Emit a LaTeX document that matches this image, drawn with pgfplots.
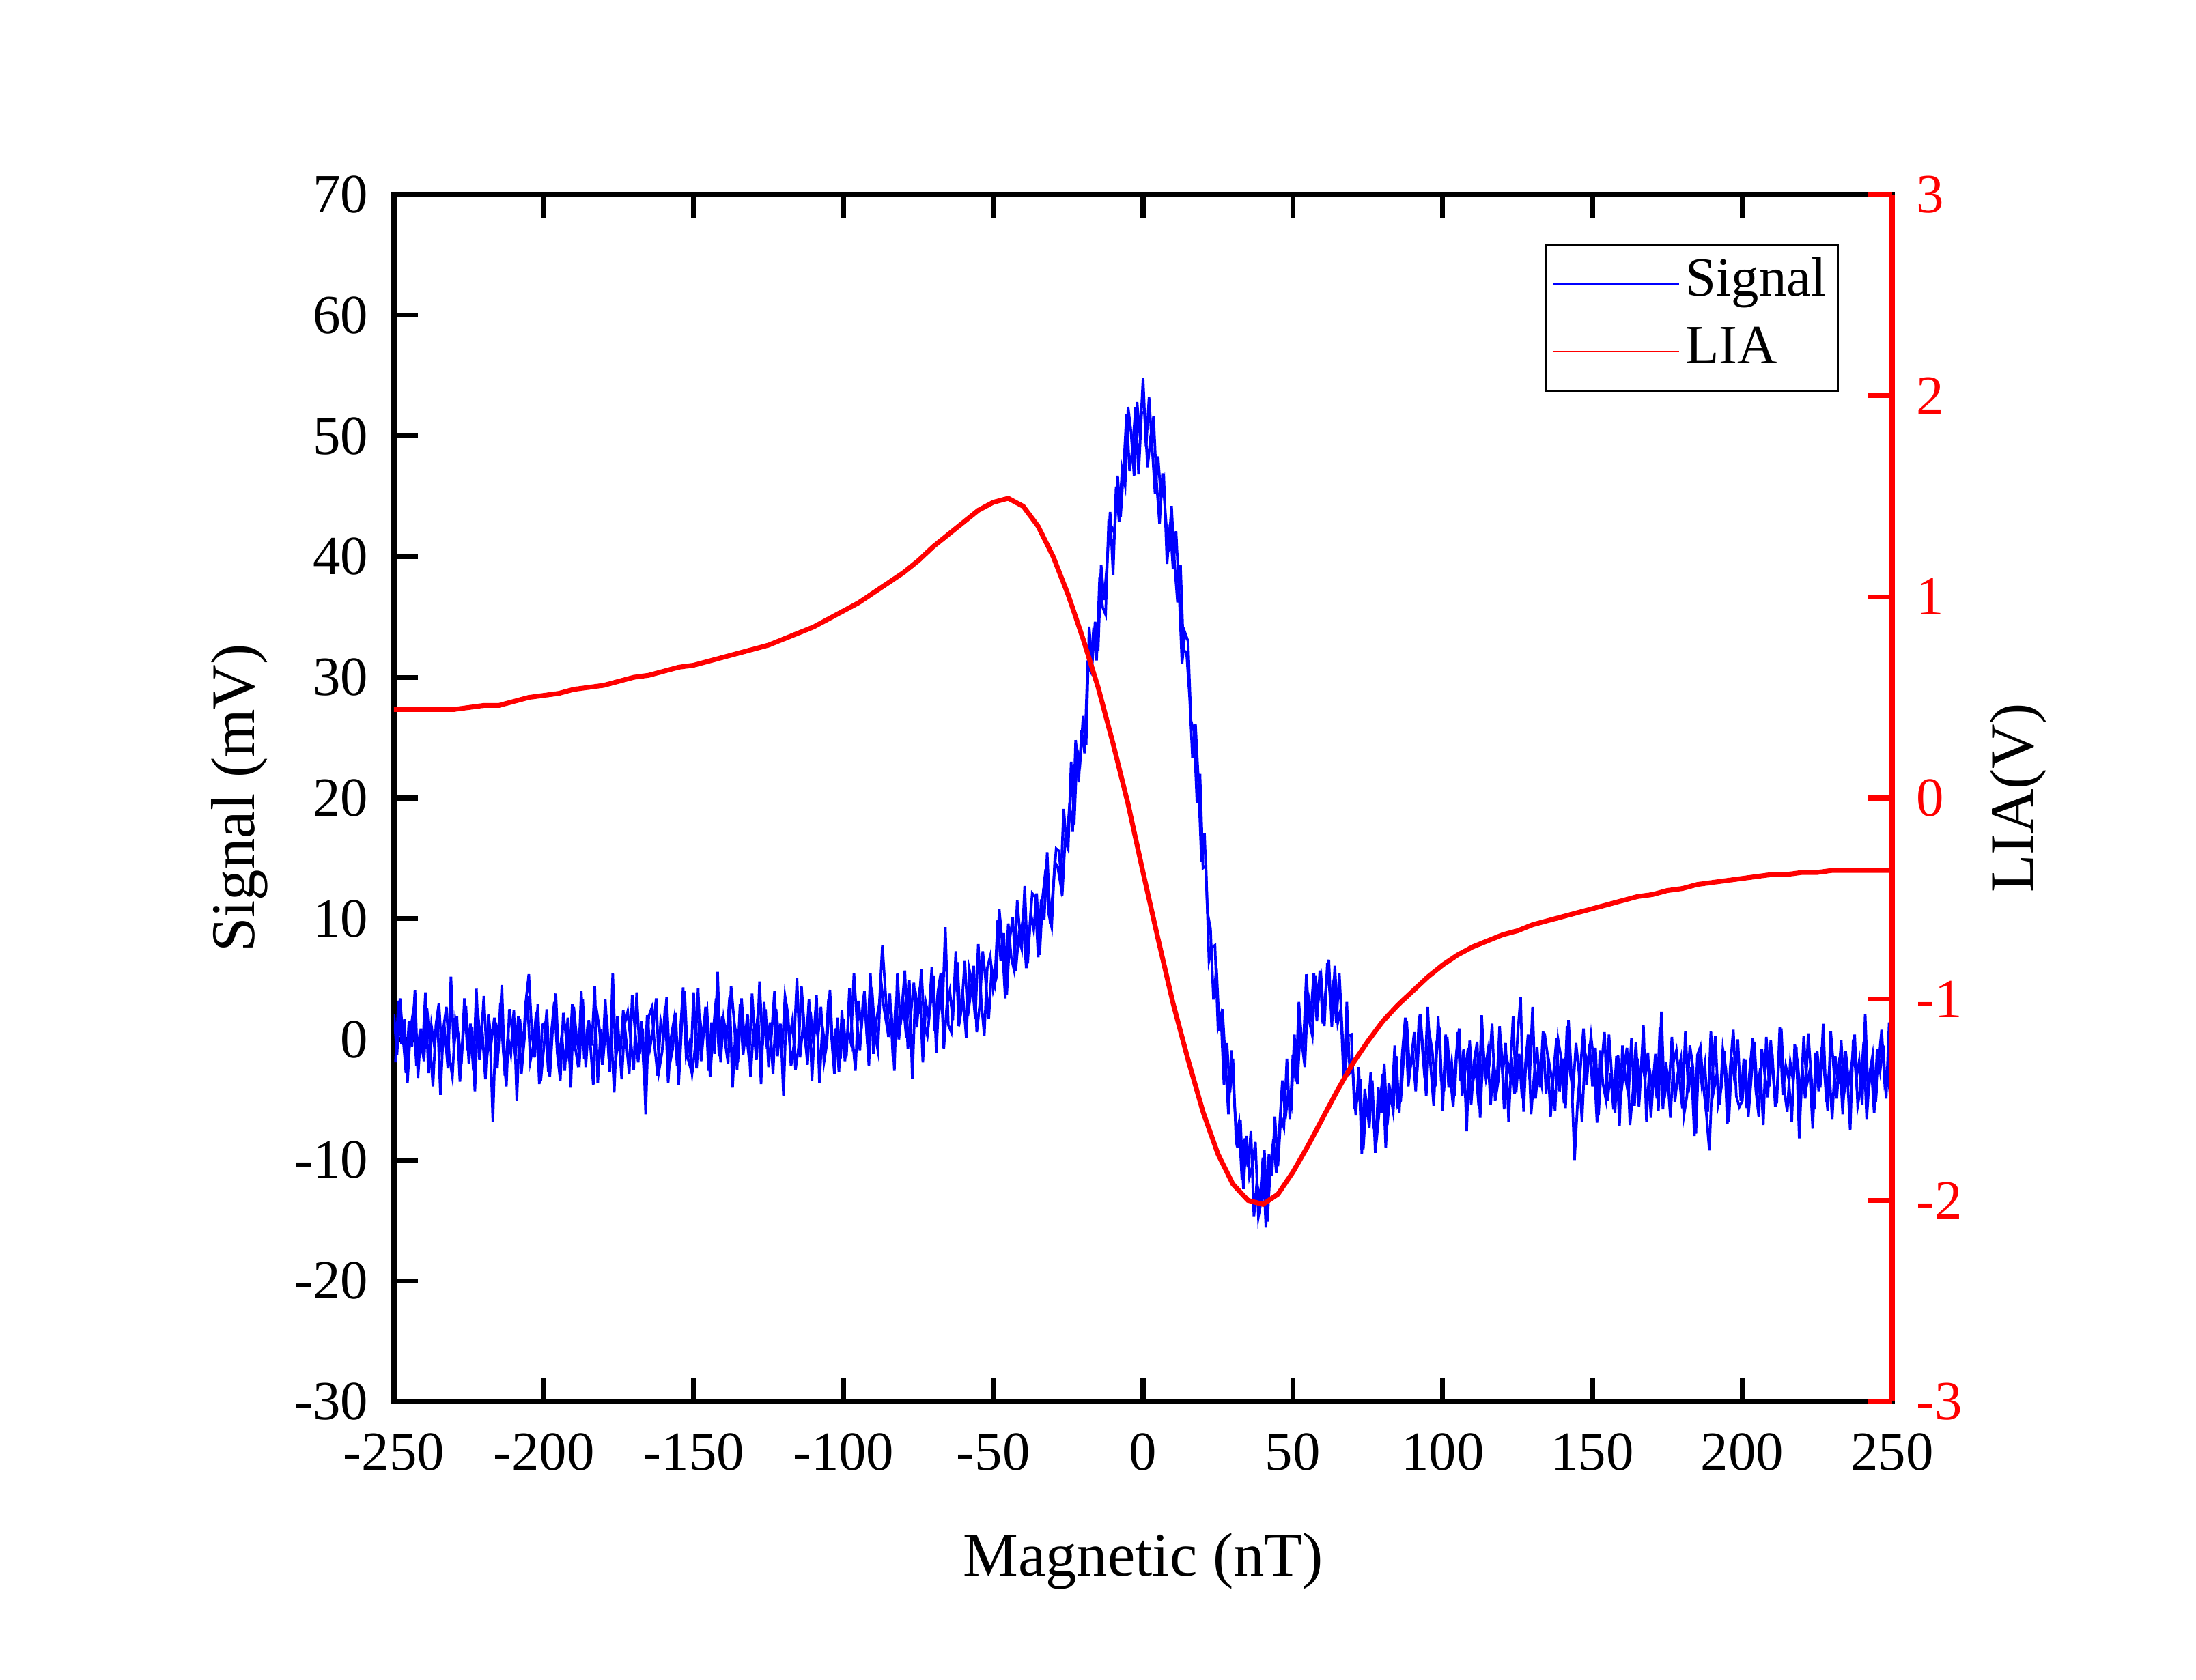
\documentclass[border=0pt]{standalone}
\usepackage{fontspec}
\setmainfont{Liberation Serif}
\usepackage{pgfplots}
\pgfplotsset{compat=1.18}
\usepackage{pgfplotstable}

\pgfplotstableread{
x y
-250 2.1
-249 -1.3
-248 3.4
-247 0.2
-246 -2.8
-245 1.5
-244 -0.6
-243 4.1
-242 -3.2
-241 0.9
-240 -1.8
-239 2.6
-238 -0.3
-237 -3.9
-236 1.2
-235 3.0
-234 -1.1
-233 0.5
-232 -2.4
-231 5.2
-230 -0.8
-229 1.9
-228 -3.5
-227 0.1
-226 2.8
-225 -2.0
-224 1.0
-223 -4.3
-222 2.2
-221 -0.4
-220 3.6
-219 -1.6
-218 0.7
-217 -6.8
-216 1.4
-215 -0.2
-214 4.5
-213 -3.0
-212 0.3
-211 -1.2
-210 2.4
-209 -5.1
-208 1.7
-207 -0.9
-206 3.1
-205 5.4
-204 0.6
-203 -1.5
-202 2.9
-201 -3.4
-200 -0.7
-199 2.5
-198 -3.1
-197 1.1
-196 3.8
-195 -1.9
-194 0.4
-193 -2.6
-192 1.8
-191 -4.0
-190 2.7
-189 0.0
-188 -1.4
-187 3.3
-186 -2.3
-185 1.6
-184 -0.5
-183 4.4
-182 -3.6
-181 0.8
-180 -1.0
-179 2.0
-178 -2.7
-177 5.5
-176 -1.7
-175 0.3
-174 -3.3
-173 1.3
-172 2.3
-171 -0.1
-170 -2.5
-169 3.9
-168 -1.2
-167 0.9
-166 -6.2
-165 1.9
-164 2.6
-163 -0.6
-162 -3.0
-161 1.5
-160 0.2
-159 3.5
-158 -2.1
-157 -0.8
-156 2.2
-155 -3.8
-154 1.0
-153 4.0
-152 -1.5
-151 -2.4
-150 3.9
-149 -2.4
-148 2.0
-147 -0.1
-146 2.7
-145 -2.6
-144 1.4
-143 -1.2
-142 5.6
-141 -1.9
-140 1.7
-139 0.2
-138 3.5
-137 -4.0
-136 0.7
-135 -0.9
-134 3.4
-133 -0.2
-132 2.1
-131 -3.1
-130 0.9
-129 -1.7
-128 4.8
-127 -0.5
-126 2.5
-125 -2.3
-124 0.4
-123 4.0
-122 -1.4
-121 1.3
-120 -4.7
-119 2.9
-118 0.0
-117 1.6
-116 -2.5
-115 -0.7
-114 4.4
-113 0.8
-112 -2.1
-111 2.3
-110 -0.4
-109 3.7
-108 -3.6
-107 1.1
-106 -1.0
-105 3.3
-104 0.3
-103 -2.9
-102 1.8
-101 -1.6
-100 1.7
-99 -1.4
-98 4.2
-97 0.1
-96 -2.6
-95 3.2
-94 0.9
-93 4.0
-92 -0.4
-91 5.5
-90 -1.2
-89 1.6
-88 3.0
-87 7.8
-86 4.0
-85 0.2
-84 2.3
-83 -2.6
-82 5.5
-81 1.2
-80 3.0
-79 0.1
-78 4.9
-77 -3.3
-76 4.0
-75 2.1
-74 5.8
-73 1.2
-72 0.3
-71 2.8
-70 5.3
-69 -1.1
-68 4.1
-67 2.1
-66 9.3
-65 1.2
-64 0.6
-63 3.9
-62 6.4
-61 1.9
-60 3.3
-59 0.1
-58 5.8
-57 4.6
-56 1.7
-55 7.9
-54 3.2
-53 0.3
-52 5.9
-51 6.9
-50 4.1
-49 5.1
-48 10.8
-47 8.0
-46 3.4
-45 9.6
-44 6.8
-43 5.7
-42 11.5
-41 8.5
-40 10.1
-39 5.9
-38 8.6
-37 12.1
-36 11.8
-35 6.8
-34 11.6
-33 9.9
-32 15.5
-31 9.6
-30 12.6
-29 15.8
-28 15.6
-27 11.9
-26 16.5
-25 15.8
-24 23.0
-23 17.8
-22 24.0
-21 23.0
-20 26.8
-19 24.4
-18 34.2
-17 31.0
-16 34.6
-15 32.2
-14 39.3
-13 36.4
-12 39.5
-11 43.7
-10 38.5
-9 45.8
-8 42.9
-7 47.2
-6 45.9
-5 52.4
-4 50.3
-3 46.7
-2 52.8
-1 49.9
0 54.8
1 49.1
2 53.2
3 49.2
4 45.2
5 48.3
6 44.8
7 46.1
8 39.4
9 42.7
10 39.0
11 42.1
12 37.2
13 31.1
14 33.7
15 33.0
16 26.4
17 25.5
18 19.6
19 22.0
20 14.2
21 14.4
22 6.5
23 7.6
24 7.8
25 1.0
26 2.0
27 -3.8
28 -0.3
29 -4.4
30 -1.6
31 -8.1
32 -6.9
33 -11.6
34 -8.2
35 -10.6
36 -7.6
37 -14.7
38 -11.8
39 -13.5
40 -9.8
41 -15.6
42 -9.5
43 -11.3
44 -6.4
45 -10.5
46 -6.4
47 -7.3
48 -1.6
49 -6.6
50 -1.3
51 -3.5
52 3.1
53 -0.3
54 -2.3
55 3.9
56 2.1
57 5.5
58 1.5
59 5.7
60 1.3
61 4.2
62 6.6
63 1.0
64 6.1
65 1.4
66 2.5
67 -3.6
68 3.1
69 -2.8
70 -2.5
71 -6.3
72 -2.3
73 -9.5
74 -4.1
75 -6.3
76 -2.7
77 -7.3
78 -8.1
79 -5.5
80 -2.9
81 -9.0
82 -3.6
83 -5.3
84 -0.5
85 -5.5
86 -5.1
87 -1.4
88 1.5
89 -2.7
90 -1.0
91 -4.3
92 1.3
93 -0.1
94 -3.2
95 2.7
96 -2.3
97 -5.5
98 -0.2
99 0.5
100 -5.9
101 0.4
102 -4.0
103 -1.9
104 -4.7
105 0.6
106 -3.4
107 -0.8
108 -7.6
109 -0.1
110 -3.7
111 -2.2
112 -5.5
113 2.0
114 -2.7
115 -1.1
116 -5.4
117 -1.8
118 -4.1
119 1.1
120 -2.9
121 -0.3
122 -6.8
123 -1.5
124 -4.5
125 0.3
126 3.5
127 -6.0
128 -0.6
129 -3.3
130 2.7
131 -4.9
132 -2.0
133 -3.6
134 0.5
135 -1.3
136 -6.4
137 -2.8
138 0.1
139 -4.3
140 -1.6
141 -5.7
142 1.6
143 -3.1
144 -10.0
145 -5.3
146 -2.3
147 0.9
148 -3.8
149 -0.4
150 -3.9
151 -0.7
152 -6.3
153 -2.1
154 0.6
155 -5.1
156 -2.8
157 -5.8
158 -1.4
159 -7.2
160 -0.5
161 -3.2
162 -4.6
163 0.1
164 -5.5
165 -1.6
166 -3.7
167 1.2
168 -6.8
169 -2.4
170 -4.2
171 -1.2
172 -5.9
173 2.3
174 -4.9
175 -2.9
176 -6.5
177 -1.9
178 -0.9
179 -3.3
180 -5.7
181 0.7
182 -4.4
183 -2.3
184 -8.0
185 -1.3
186 -0.6
187 -3.8
188 -6.2
189 -9.2
190 -3.0
191 0.3
192 -5.3
193 -4.0
194 -1.0
195 -7.0
196 -2.2
197 0.8
198 -4.7
199 -5.6
200 -5.1
201 -1.7
202 -6.4
203 -3.2
204 -0.2
205 -4.5
206 -2.4
207 -7.1
208 0.2
209 -3.9
210 -1.2
211 -5.6
212 -2.7
213 0.9
214 -4.2
215 -6.0
216 -1.9
217 -3.5
218 -0.6
219 -8.2
220 -2.2
221 -4.9
222 0.5
223 -3.1
224 -5.8
225 -1.0
226 -4.0
227 1.3
228 -5.2
229 -2.6
230 -6.6
231 -1.4
232 -3.7
233 -0.1
234 -4.4
235 -2.8
236 -7.5
237 0.0
238 -3.3
239 -1.8
240 -5.4
241 2.1
242 -4.7
243 -2.1
244 -6.1
245 -0.8
246 -2.6
247 -0.5
248 -4.9
249 1.4
250 -1.0
}\signaldata

\pgfplotstableread{
x y
-249.5 -1.9
-248.5 3.2
-247.5 -0.4
-246.5 1.7
-245.5 -3.6
-244.5 0.8
-243.5 2.4
-242.5 -2.2
-241.5 0.3
-240.5 -1.0
-239.5 3.9
-238.5 -2.8
-237.5 1.1
-236.5 -0.6
-235.5 2.0
-234.5 -4.6
-233.5 0.9
-232.5 2.7
-231.5 -1.5
-230.5 -3.1
-229.5 1.6
-228.5 0.4
-227.5 -2.0
-226.5 3.4
-225.5 -0.9
-224.5 1.3
-223.5 -2.6
-222.5 4.2
-221.5 -1.7
-220.5 0.6
-219.5 -3.3
-218.5 2.1
-217.5 -0.2
-216.5 1.8
-215.5 -2.4
-214.5 3.0
-213.5 -1.1
-212.5 -3.9
-211.5 2.5
-210.5 0.7
-209.5 -1.4
-208.5 1.9
-207.5 -2.9
-206.5 0.0
-205.5 3.6
-204.5 -1.8
-203.5 -0.5
-202.5 2.3
-201.5 -3.7
-200.5 1.2
-199.5 1.4
-198.5 -2.7
-197.5 0.5
-196.5 3.1
-195.5 -1.2
-194.5 -3.4
-193.5 2.2
-192.5 0.1
-191.5 -1.8
-190.5 2.9
-189.5 -0.7
-188.5 -2.3
-187.5 4.0
-186.5 -1.6
-185.5 0.8
-184.5 -0.3
-183.5 -3.8
-182.5 2.6
-181.5 1.0
-180.5 -2.1
-179.5 3.3
-178.5 -0.8
-177.5 0.4
-176.5 -4.4
-175.5 1.9
-174.5 -1.3
-173.5 2.4
-172.5 -0.1
-171.5 -2.9
-170.5 3.7
-169.5 0.6
-168.5 -1.9
-167.5 1.5
-166.5 -3.2
-165.5 2.0
-164.5 -0.6
-163.5 0.9
-162.5 3.4
-161.5 -2.5
-160.5 -1.0
-159.5 2.8
-158.5 -3.6
-157.5 0.2
-156.5 1.7
-155.5 -2.2
-154.5 0.3
-153.5 4.3
-152.5 -1.4
-151.5 -0.4
-150.5 -2.8
-149.5 -0.7
-148.5 4.2
-147.5 -1.8
-146.5 1.0
-145.5 2.3
-144.5 -3.1
-143.5 0.5
-142.5 3.4
-141.5 -1.4
-140.5 1.9
-139.5 -0.2
-138.5 -2.0
-137.5 4.4
-136.5 1.6
-135.5 -2.5
-134.5 2.9
-133.5 -1.3
-132.5 0.7
-131.5 -1.6
-130.5 3.8
-129.5 -0.1
-128.5 2.2
-127.5 -3.7
-126.5 3.1
-125.5 -0.8
-124.5 1.4
-123.5 -2.9
-122.5 2.5
-121.5 0.1
-120.5 -1.1
-119.5 3.6
-118.5 2.0
-117.5 -2.2
-116.5 -0.4
-115.5 5.1
-114.5 -1.5
-113.5 1.1
-112.5 -0.6
-111.5 3.3
-110.5 -3.4
-109.5 1.5
-108.5 0.2
-107.5 2.7
-106.5 -1.9
-105.5 -0.3
-104.5 4.1
-103.5 -1.2
-102.5 0.9
-101.5 -2.7
-100.5 2.4
-99.5 -1.8
-98.5 0.7
-97.5 -0.3
-96.5 5.5
-95.5 1.5
-94.5 -0.9
-93.5 3.0
-92.5 1.6
-91.5 -2.2
-90.5 4.3
-89.5 0.5
-88.5 -0.9
-87.5 5.0
-86.5 2.6
-85.5 1.1
-84.5 3.8
-83.5 -1.4
-82.5 3.4
-81.5 0.0
-80.5 2.6
-79.5 5.7
-78.5 -0.8
-77.5 2.1
-76.5 4.7
-75.5 1.0
-74.5 4.3
-73.5 -1.9
-72.5 3.0
-71.5 1.8
-70.5 6.0
-69.5 0.7
-68.5 3.9
-67.5 5.5
-66.5 -0.8
-65.5 2.8
-64.5 4.0
-63.5 1.6
-62.5 7.3
-61.5 1.1
-60.5 2.8
-59.5 6.5
-58.5 1.9
-57.5 3.9
-56.5 6.1
-55.5 0.6
-54.5 2.9
-53.5 7.3
-52.5 4.8
-51.5 1.7
-50.5 5.9
-49.5 4.7
-48.5 9.9
-47.5 6.5
-46.5 8.8
-45.5 3.7
-44.5 8.3
-43.5 10.1
-42.5 5.7
-41.5 8.5
-40.5 7.5
-39.5 12.7
-38.5 6.3
-37.5 10.5
-36.5 9.1
-35.5 12.1
-34.5 7.0
-33.5 11.8
-32.5 14.1
-31.5 10.4
-30.5 9.3
-29.5 14.7
-28.5 14.3
-27.5 12.8
-26.5 19.1
-25.5 16.0
-24.5 19.6
-23.5 17.2
-22.5 24.8
-21.5 21.3
-20.5 25.6
-19.5 23.7
-18.5 31.0
-17.5 30.5
-16.5 34.1
-15.5 31.4
-14.5 38.3
-13.5 35.8
-12.5 35.2
-11.5 42.8
-10.5 42.5
-9.5 41.9
-8.5 46.7
-7.5 43.3
-6.5 47.3
-5.5 51.8
-4.5 47.1
-3.5 49.0
-2.5 52.4
-1.5 46.8
-0.5 51.9
0.5 52.0
1.5 47.4
2.5 49.9
3.5 51.6
4.5 46.2
5.5 42.7
6.5 46.9
7.5 43.4
8.5 40.4
9.5 44.2
10.5 39.5
11.5 36.2
12.5 39.3
13.5 32.2
14.5 32.1
15.5 28.5
16.5 23.3
17.5 26.1
18.5 21.3
19.5 14.7
20.5 17.1
21.5 10.5
22.5 9.2
23.5 3.3
24.5 5.9
25.5 0.7
26.5 2.5
27.5 -1.8
28.5 -6.2
29.5 -0.9
30.5 -5.3
31.5 -9.0
32.5 -6.7
33.5 -12.4
34.5 -8.0
35.5 -11.4
36.5 -10.5
37.5 -8.5
38.5 -14.7
39.5 -13.3
40.5 -9.2
41.5 -15.1
42.5 -10.6
43.5 -8.3
44.5 -11.1
45.5 -7.4
46.5 -3.4
47.5 -6.6
48.5 -4.3
49.5 -5.4
50.5 0.4
51.5 -3.7
52.5 0.8
53.5 -0.6
54.5 5.4
55.5 1.5
56.5 0.3
57.5 5.3
58.5 3.2
59.5 4.9
60.5 1.1
61.5 6.3
62.5 3.3
63.5 4.7
64.5 1.4
65.5 5.5
66.5 0.5
67.5 -2.6
68.5 0.3
69.5 0.4
70.5 -5.5
71.5 -5.1
72.5 -3.3
73.5 -9.1
74.5 -5.0
75.5 -7.3
76.5 -3.4
77.5 -9.4
78.5 -4.0
79.5 -6.1
80.5 -2.0
81.5 -7.1
82.5 -4.4
83.5 -6.0
84.5 -1.4
85.5 -6.1
86.5 -1.2
87.5 1.8
88.5 -3.9
89.5 -1.7
90.5 0.6
91.5 -2.7
92.5 2.1
93.5 -1.0
94.5 -4.7
95.5 0.6
96.5 -0.9
97.5 -3.9
98.5 1.9
99.5 -3.4
100.5 -3.9
101.5 0.2
102.5 -3.0
103.5 -5.6
104.5 -1.3
105.5 0.9
106.5 -4.7
107.5 -2.6
108.5 -0.7
109.5 -5.4
110.5 -1.8
111.5 -0.2
112.5 -6.5
113.5 -0.9
114.5 -3.3
115.5 -2.2
116.5 1.3
117.5 -5.1
118.5 -3.5
119.5 -0.4
120.5 -5.8
121.5 -1.7
122.5 -2.9
123.5 1.9
124.5 -4.4
125.5 -1.2
126.5 -4.9
127.5 -2.4
128.5 0.4
129.5 -6.2
130.5 -3.1
131.5 -0.6
132.5 -4.0
133.5 0.7
134.5 -4.5
135.5 -1.9
136.5 -3.4
137.5 -5.9
138.5 0.0
139.5 -1.5
140.5 -5.3
141.5 1.1
142.5 -2.7
143.5 -4.2
144.5 -0.3
145.5 -2.8
146.5 -6.8
147.5 -1.1
148.5 -2.1
149.5 0.3
150.5 -2.0
151.5 -6.9
152.5 -0.9
153.5 -3.7
154.5 -5.0
155.5 0.4
156.5 -3.2
157.5 -6.1
158.5 -1.3
159.5 -4.6
160.5 -2.5
161.5 -0.7
162.5 -7.1
163.5 -4.3
164.5 -0.2
165.5 -5.6
166.5 -1.4
167.5 -3.4
168.5 -1.1
169.5 -6.5
170.5 -2.6
171.5 -4.9
172.5 1.0
173.5 -5.8
174.5 -1.9
175.5 -4.1
176.5 0.2
177.5 -5.2
178.5 -2.8
179.5 -1.6
180.5 -6.3
181.5 -4.7
182.5 -0.5
183.5 -2.3
184.5 -7.8
185.5 -1.2
186.5 -3.8
187.5 -2.1
188.5 -6.0
189.5 0.7
190.5 -4.2
191.5 -2.9
192.5 -5.4
193.5 -0.8
194.5 -2.4
195.5 -6.8
196.5 -1.5
197.5 -3.6
198.5 0.0
199.5 -5.1
200.5 -1.6
201.5 -5.7
202.5 -2.5
203.5 0.1
204.5 -4.2
205.5 -6.4
206.5 -0.8
207.5 -2.9
208.5 -4.8
209.5 -0.1
210.5 -3.7
211.5 -5.3
212.5 1.0
213.5 -4.6
214.5 -2.2
215.5 -3.3
216.5 -6.8
217.5 -0.4
218.5 -2.0
219.5 -5.1
220.5 0.3
221.5 -3.8
222.5 -2.6
223.5 -7.4
224.5 -1.1
225.5 -4.3
226.5 -0.6
227.5 -3.1
228.5 -5.9
229.5 0.7
230.5 -2.4
231.5 -4.9
232.5 -1.5
233.5 -6.2
234.5 -1.0
235.5 -3.6
236.5 -2.1
237.5 0.4
238.5 -5.5
239.5 -4.0
240.5 -0.2
241.5 -6.6
242.5 -2.8
243.5 -1.3
244.5 -5.2
245.5 -1.9
246.5 0.8
247.5 -3.6
248.5 -2.6
249.5 -5.0
}\signalhalf

\pgfplotstableread{
x y
-250 0.44
-245 0.44
-240 0.44
-235 0.44
-230 0.44
-225 0.45
-220 0.46
-215 0.46
-210 0.48
-205 0.50
-200 0.51
-195 0.52
-190 0.54
-185 0.55
-180 0.56
-175 0.58
-170 0.60
-165 0.61
-160 0.63
-155 0.65
-150 0.66
-145 0.68
-140 0.70
-135 0.72
-130 0.74
-125 0.76
-120 0.79
-115 0.82
-110 0.85
-105 0.89
-100 0.93
-95 0.97
-90 1.02
-85 1.07
-80 1.12
-75 1.18
-70 1.25
-65 1.31
-60 1.37
-55 1.43
-50 1.47
-45 1.49
-40 1.45
-35 1.35
-30 1.20
-25 1.01
-20 0.79
-15 0.55
-10 0.27
-5 -0.03
0 -0.37
5 -0.70
10 -1.02
15 -1.30
20 -1.56
25 -1.77
30 -1.92
35 -2.00
40 -2.02
45 -1.97
50 -1.86
55 -1.73
60 -1.59
65 -1.45
70 -1.32
75 -1.21
80 -1.11
85 -1.03
90 -0.96
95 -0.89
100 -0.83
105 -0.78
110 -0.74
115 -0.71
120 -0.68
125 -0.66
130 -0.63
135 -0.61
140 -0.59
145 -0.57
150 -0.55
155 -0.53
160 -0.51
165 -0.49
170 -0.48
175 -0.46
180 -0.45
185 -0.43
190 -0.42
195 -0.41
200 -0.40
205 -0.39
210 -0.38
215 -0.38
220 -0.37
225 -0.37
230 -0.36
235 -0.36
240 -0.36
245 -0.36
250 -0.36
}\liadata

\newcommand{\tickfont}{\fontsize{19.4}{23}\selectfont}
\newcommand{\labfont}{\fontsize{21.8}{26}\selectfont}

\begin{document}
\begin{tikzpicture}
\useasboundingbox (-138.48pt,-97.92pt) rectangle ++(771.84pt,590.64pt);
\begin{axis}[
  at={(0,0)}, anchor=south west,
  scale only axis, width=526.56pt, height=424.32pt,
  xmin=-250, xmax=250, ymin=-30, ymax=70,
  xtick={-250,-200,-150,-100,-50,0,50,100,150,200,250},
  xticklabels={-250,-200,-150,-100,-50,0,50,100,150,200,250},
  ytick={-30,-20,-10,0,10,20,30,40,50,60,70},
  yticklabels={-30,-20,-10,0,10,20,30,40,50,60,70},
  xtick pos=both, ytick pos=left,
  tick align=inside, major tick length=8.5pt,
  axis line style={line width=1.7pt},
  tick style={black, line width=1.7pt},
  ticklabel style={font=\tickfont},
  xticklabel shift=7.6pt, yticklabel shift=5.5pt,
  xlabel={Magnetic (nT)},
  xlabel style={font=\labfont, at={(axis description cs:0.5,-0.1447)}, anchor=base},
  ylabel={Signal (mV)},
  ylabel style={font=\labfont, at={(axis description cs:-0.0930,0.5)}, anchor=base},
]
\addplot[blue, line width=0.9pt] table[x=x, y=y] {\signaldata};
\addplot[blue, line width=0.9pt] table[x=x, y=y] {\signalhalf};
\end{axis}
\begin{axis}[
  at={(0,0)}, anchor=south west,
  scale only axis, width=526.56pt, height=424.32pt,
  xmin=-250, xmax=250, ymin=-3, ymax=3,
  axis x line=none, axis y line*=right,
  ytick={-3,-2,-1,0,1,2,3},
  yticklabels={-3,-2,-1,0,1,2,3},
  tick align=inside, major tick length=8.5pt,
  y axis line style={red, line width=1.7pt},
  ytick style={red, line width=1.7pt},
  yticklabel style={font=\tickfont, text=red},
  yticklabel shift=5.1pt,
  ylabel={LIA(V)},
  ylabel style={font=\labfont, at={(axis description cs:1.0943,0.5)}, anchor=base},
  legend cell align=left,
  legend image code/.code={\draw[#1] (0pt,0pt) -- (44.4pt,0pt);},
  legend style={at={(axis description cs:0.9645,0.9593)}, anchor=north east,
    draw=black, line width=0.7pt, fill=white,
    inner xsep=2pt, inner ysep=2.5pt, row sep=1.3pt,
    font=\tickfont,
    nodes={inner sep=2pt, text depth=4.9pt, text height=13.6pt}},
]
\addlegendimage{blue, line width=0.6pt}
\addlegendentry{Signal}
\addplot[red, line width=1.7pt, forget plot] table[x=x, y=y] {\liadata};
\addlegendimage{red, line width=0.6pt}
\addlegendentry{LIA}
\end{axis}
\end{tikzpicture}
\end{document}
